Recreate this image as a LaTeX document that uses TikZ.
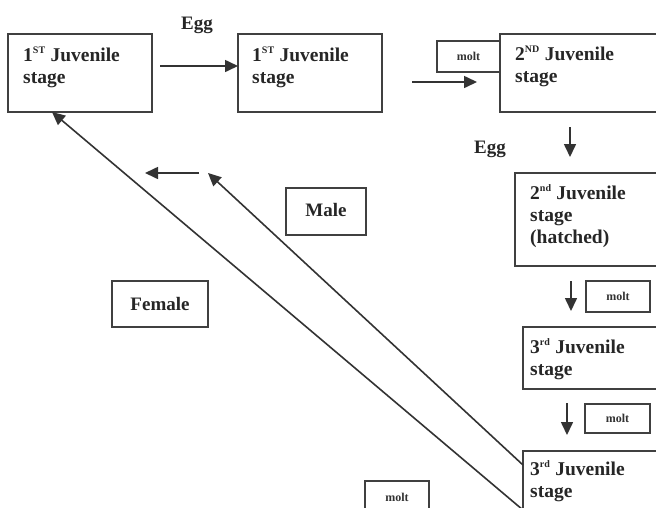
\documentclass[tikz,border=0pt]{standalone}
\usepackage{fontspec}
\setmainfont{Liberation Serif}
\usetikzlibrary{arrows.meta,calc}
\begin{document}
\begin{tikzpicture}[x=1pt,y=-1pt,
  box/.style={draw=black!75, line width=1.5pt, inner sep=0pt, outer sep=0pt, anchor=north west},
  txt/.style={inner sep=0pt, align=left, anchor=base west, font=\fontsize{19.5}{22}\selectfont\bfseries, text=black!85},
  lbl/.style={inner sep=0pt, font=\fontsize{19}{22}\selectfont\bfseries, text=black!85},
  mtxt/.style={inner sep=0pt, font=\fontsize{12}{14}\selectfont\bfseries, text=black!80},
  arr/.style={draw=black!80, line width=1.6pt, -{Triangle[length=13pt,width=12pt]}}]
\clip (0,0) rectangle (656,507);
\fill[white] (0,0) rectangle (656,507);
% boxes
\node[box, minimum width=144pt, minimum height=78pt] (A) at (8,34) {};
\node[box, minimum width=144pt, minimum height=78pt] (B) at (238,34) {};
\node[box, minimum width=170pt, minimum height=78pt] (C) at (500,34) {};
\node[box, minimum width=63pt, minimum height=31pt] (m1) at (437,41) {};
\node[box, minimum width=155pt, minimum height=93pt] (D) at (515,173) {};
\node[box, minimum width=64pt, minimum height=31pt] (m2) at (586,281) {};
\node[box, minimum width=147pt, minimum height=62pt] (E) at (523,327) {};
\node[box, minimum width=65pt, minimum height=29pt] (m3) at (585,404) {};
\node[box, minimum width=147pt, minimum height=80pt] (F) at (523,451) {};
\node[box, minimum width=64pt, minimum height=50pt] (m4) at (365,481) {};
\node[box, minimum width=80pt, minimum height=47pt] (male) at (286,188) {};
\node[box, minimum width=96pt, minimum height=46pt] (female) at (112,281) {};
% texts (anchored at the baseline of the last line)
\node[txt] (tA) at (23,83) {1\textsuperscript{\fontsize{10}{10}\selectfont ST} Juvenile\\stage};
\node[txt] (tB) at (252,83) {1\textsuperscript{\fontsize{10}{10}\selectfont ST} Juvenile\\stage};
\node[txt] (tC) at (515,82) {2\textsuperscript{\fontsize{10}{10}\selectfont ND} Juvenile\\stage};
\node[txt] (tD) at (530,243) {2\textsuperscript{\fontsize{10}{10}\selectfont nd} Juvenile\\stage\\(hatched)};
\node[txt] (tE) at (530,375) {3\textsuperscript{\fontsize{10}{10}\selectfont rd} Juvenile\\stage};
\node[txt] (tF) at (530,497) {3\textsuperscript{\fontsize{10}{10}\selectfont rd} Juvenile\\stage};
\node[lbl, anchor=base] (egg1) at (197,29) {Egg};
\node[lbl, anchor=base] (egg2) at (490,153) {Egg};
\node[lbl, anchor=base] (tmale) at (326,216) {Male};
\node[lbl, anchor=base] (tfemale) at (160,310) {Female};
\node[mtxt] (tm1) at (m1.center) {molt};
\node[mtxt] (tm2) at (m2.center) {molt};
\node[mtxt] (tm3) at (m3.center) {molt};
\node[mtxt] (tm4) at (397,497) {molt};
% connector end points
\coordinate (a1) at (160,66);
\coordinate (b1) at (412,82);
\coordinate (b2) at (477,82);
\coordinate (c1) at (570,127);
\coordinate (c2) at (570,157);
\coordinate (d1) at (571,281);
\coordinate (d2) at (571,311);
\coordinate (e1) at (567,403);
\coordinate (e2) at (567,435);
\coordinate (aTip) at (52,112);
\coordinate (fLow) at (523,510);
\coordinate (fMid) at (523,465);
\coordinate (mTip) at (208,173);
\coordinate (s1) at (199,173);
\coordinate (s2) at (145,173);
% connectors
\draw[arr] (a1) -- (a1 -| B.west);
\draw[arr] (b1) -- (b2);
\draw[arr] (c1) -- (c2);
\draw[arr] (d1) -- (d2);
\draw[arr] (e1) -- (e2);
\draw[arr] (fLow) -- (aTip);
\draw[arr] (fMid) -- (mTip);
\draw[arr] (s1) -- (s2);
\end{tikzpicture}
\end{document}
